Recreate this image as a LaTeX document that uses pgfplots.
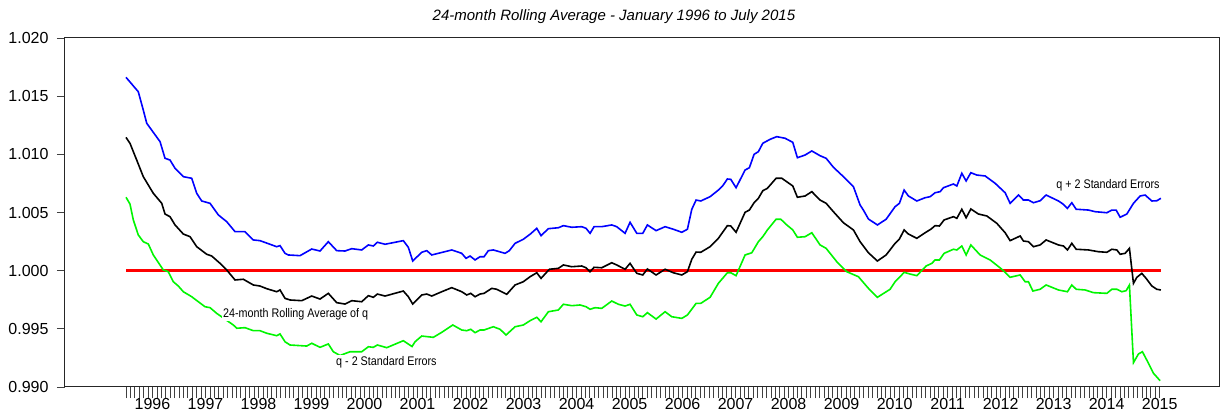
\documentclass[border=0pt]{standalone}
\usepackage{fontspec}
\setmainfont{Liberation Sans}
\newfontfamily\narrowfont[FakeStretch=0.86]{Liberation Sans}
\usepackage{pgfplots}
\usepackage{pgfplotstable}
\pgfplotsset{compat=1.18}

\pgfplotstableread{
x y
1996.000 1.01662
1996.232 1.01538
1996.326 1.01381
1996.391 1.01267
1996.642 1.01109
1996.736 1.00966
1996.830 1.00951
1996.925 1.00880
1997.081 1.00808
1997.240 1.00794
1997.334 1.00665
1997.428 1.00599
1997.585 1.00579
1997.742 1.00479
1997.900 1.00421
1998.057 1.00335
1998.245 1.00335
1998.402 1.00264
1998.528 1.00258
1998.843 1.00206
1998.906 1.00215
1999.000 1.00149
1999.062 1.00135
1999.283 1.00129
1999.504 1.00186
1999.660 1.00169
1999.817 1.00249
1999.975 1.00172
2000.132 1.00169
2000.258 1.00189
2000.447 1.00178
2000.572 1.00221
2000.666 1.00212
2000.742 1.00244
2000.887 1.00227
2001.232 1.00258
2001.326 1.00201
2001.409 1.00083
2001.579 1.00158
2001.674 1.00172
2001.768 1.00135
2002.145 1.00178
2002.334 1.00149
2002.415 1.00106
2002.491 1.00126
2002.585 1.00092
2002.679 1.00120
2002.755 1.00120
2002.836 1.00172
2002.930 1.00178
2003.151 1.00149
2003.232 1.00172
2003.340 1.00235
2003.496 1.00270
2003.623 1.00313
2003.749 1.00364
2003.830 1.00301
2003.968 1.00361
2004.157 1.00369
2004.251 1.00387
2004.409 1.00373
2004.598 1.00378
2004.679 1.00364
2004.755 1.00321
2004.830 1.00378
2004.975 1.00378
2005.164 1.00393
2005.258 1.00378
2005.415 1.00321
2005.509 1.00416
2005.636 1.00321
2005.749 1.00321
2005.836 1.00393
2006.000 1.00344
2006.170 1.00378
2006.326 1.00356
2006.485 1.00330
2006.591 1.00356
2006.674 1.00528
2006.755 1.00607
2006.843 1.00599
2007.019 1.00636
2007.175 1.00693
2007.258 1.00730
2007.345 1.00788
2007.409 1.00785
2007.509 1.00713
2007.679 1.00865
2007.760 1.00885
2007.849 1.01000
2007.930 1.01023
2008.013 1.01095
2008.151 1.01129
2008.277 1.01152
2008.434 1.01138
2008.579 1.01103
2008.666 1.00971
2008.811 1.00994
2008.938 1.01029
2009.094 1.00988
2009.208 1.00966
2009.345 1.00889
2009.534 1.00808
2009.628 1.00765
2009.723 1.00722
2009.849 1.00564
2009.911 1.00521
2010.006 1.00444
2010.175 1.00393
2010.340 1.00442
2010.509 1.00550
2010.591 1.00579
2010.679 1.00693
2010.760 1.00642
2010.919 1.00599
2011.075 1.00627
2011.170 1.00636
2011.264 1.00670
2011.358 1.00679
2011.421 1.00713
2011.609 1.00745
2011.674 1.00728
2011.768 1.00837
2011.849 1.00771
2011.938 1.00842
2012.051 1.00822
2012.208 1.00814
2012.396 1.00751
2012.585 1.00670
2012.679 1.00579
2012.836 1.00650
2012.930 1.00607
2013.025 1.00607
2013.119 1.00584
2013.245 1.00601
2013.358 1.00650
2013.591 1.00599
2013.685 1.00570
2013.760 1.00536
2013.843 1.00584
2013.925 1.00528
2014.157 1.00521
2014.283 1.00507
2014.504 1.00498
2014.598 1.00521
2014.679 1.00521
2014.755 1.00459
2014.881 1.00487
2015.006 1.00579
2015.132 1.00642
2015.226 1.00650
2015.353 1.00599
2015.447 1.00601
2015.523 1.00622
}\tabUpper

\pgfplotstableread{
x y
1996.000 1.01146
1996.075 1.01095
1996.202 1.00951
1996.326 1.00808
1996.515 1.00665
1996.674 1.00579
1996.736 1.00487
1996.830 1.00464
1996.925 1.00393
1997.081 1.00315
1997.208 1.00292
1997.334 1.00206
1997.523 1.00141
1997.617 1.00126
1997.774 1.00063
1997.900 1.00006
1998.057 0.99920
1998.213 0.99926
1998.402 0.99877
1998.528 0.99868
1998.655 0.99845
1998.843 0.99819
1998.906 0.99834
1999.000 0.99762
1999.094 0.99748
1999.315 0.99742
1999.504 0.99782
1999.660 0.99756
1999.817 0.99805
1999.975 0.99725
2000.132 0.99713
2000.258 0.99742
2000.447 0.99733
2000.572 0.99785
2000.666 0.99771
2000.742 0.99799
2000.887 0.99782
2001.232 0.99825
2001.326 0.99776
2001.409 0.99713
2001.579 0.99791
2001.674 0.99799
2001.768 0.99782
2001.957 0.99819
2002.145 0.99854
2002.334 0.99819
2002.428 0.99791
2002.504 0.99805
2002.585 0.99776
2002.679 0.99799
2002.755 0.99805
2002.900 0.99848
2002.994 0.99840
2003.183 0.99797
2003.340 0.99877
2003.496 0.99905
2003.623 0.99948
2003.749 0.99982
2003.830 0.99934
2003.987 1.00012
2004.157 1.00020
2004.251 1.00049
2004.409 1.00034
2004.598 1.00040
2004.679 1.00025
2004.755 0.99991
2004.830 1.00029
2004.975 1.00025
2005.164 1.00068
2005.258 1.00049
2005.415 1.00012
2005.509 1.00063
2005.636 0.99977
2005.749 0.99963
2005.836 1.00014
2006.000 0.99963
2006.170 1.00012
2006.326 0.99982
2006.485 0.99963
2006.591 0.99991
2006.674 1.00098
2006.755 1.00160
2006.843 1.00158
2007.019 1.00206
2007.175 1.00278
2007.345 1.00387
2007.409 1.00384
2007.509 1.00330
2007.679 1.00502
2007.760 1.00521
2007.849 1.00584
2007.930 1.00622
2008.013 1.00687
2008.100 1.00708
2008.264 1.00794
2008.372 1.00794
2008.579 1.00728
2008.666 1.00631
2008.811 1.00642
2008.938 1.00679
2009.094 1.00607
2009.208 1.00579
2009.345 1.00507
2009.534 1.00412
2009.723 1.00350
2009.849 1.00249
2010.006 1.00154
2010.175 1.00083
2010.340 1.00135
2010.509 1.00235
2010.591 1.00272
2010.679 1.00350
2010.760 1.00315
2010.919 1.00278
2011.075 1.00326
2011.183 1.00356
2011.264 1.00387
2011.345 1.00384
2011.434 1.00436
2011.609 1.00464
2011.674 1.00450
2011.768 1.00528
2011.849 1.00455
2011.938 1.00530
2012.081 1.00487
2012.240 1.00470
2012.428 1.00407
2012.585 1.00326
2012.679 1.00258
2012.868 1.00298
2012.930 1.00255
2013.025 1.00249
2013.119 1.00206
2013.245 1.00221
2013.358 1.00264
2013.591 1.00221
2013.685 1.00212
2013.760 1.00178
2013.843 1.00235
2013.925 1.00184
2014.157 1.00178
2014.345 1.00163
2014.504 1.00158
2014.598 1.00184
2014.692 1.00178
2014.755 1.00141
2014.849 1.00149
2014.930 1.00192
2015.006 0.99891
2015.070 0.99943
2015.164 0.99977
2015.258 0.99926
2015.353 0.99868
2015.447 0.99840
2015.523 0.99834
}\tabMid

\pgfplotstableread{
x y
1996.000 1.00631
1996.075 1.00573
1996.138 1.00436
1996.232 1.00307
1996.326 1.00249
1996.421 1.00229
1996.515 1.00135
1996.704 1.00006
1996.798 0.99991
1996.892 0.99905
1996.987 0.99868
1997.081 0.99819
1997.240 0.99776
1997.364 0.99733
1997.491 0.99690
1997.585 0.99682
1997.711 0.99633
1998.025 0.99533
1998.089 0.99505
1998.245 0.99510
1998.402 0.99484
1998.528 0.99484
1998.655 0.99462
1998.843 0.99441
1998.906 0.99456
1999.000 0.99389
1999.094 0.99361
1999.409 0.99352
1999.504 0.99376
1999.660 0.99341
1999.817 0.99370
1999.911 0.99303
2000.038 0.99271
2000.226 0.99303
2000.447 0.99303
2000.572 0.99346
2000.666 0.99341
2000.742 0.99361
2000.919 0.99338
2001.232 0.99398
2001.396 0.99348
2001.453 0.99389
2001.579 0.99438
2001.798 0.99427
2001.957 0.99470
2002.164 0.99533
2002.334 0.99490
2002.428 0.99484
2002.504 0.99496
2002.585 0.99467
2002.679 0.99490
2002.755 0.99490
2002.930 0.99518
2003.057 0.99496
2003.170 0.99447
2003.340 0.99518
2003.496 0.99533
2003.623 0.99570
2003.749 0.99599
2003.830 0.99561
2003.968 0.99647
2004.157 0.99662
2004.251 0.99711
2004.409 0.99699
2004.566 0.99705
2004.679 0.99690
2004.755 0.99668
2004.849 0.99682
2004.975 0.99676
2005.164 0.99739
2005.289 0.99711
2005.415 0.99696
2005.509 0.99711
2005.636 0.99619
2005.749 0.99604
2005.836 0.99639
2006.000 0.99584
2006.170 0.99647
2006.296 0.99604
2006.485 0.99590
2006.591 0.99619
2006.755 0.99719
2006.843 0.99719
2007.019 0.99771
2007.175 0.99891
2007.345 0.99982
2007.409 0.99982
2007.509 0.99957
2007.679 1.00135
2007.806 1.00154
2007.930 1.00249
2008.013 1.00292
2008.100 1.00350
2008.264 1.00442
2008.353 1.00442
2008.466 1.00393
2008.579 1.00350
2008.666 1.00287
2008.811 1.00292
2008.938 1.00326
2009.094 1.00221
2009.208 1.00192
2009.409 1.00077
2009.598 0.99991
2009.817 0.99948
2010.006 0.99848
2010.175 0.99771
2010.415 0.99840
2010.509 0.99905
2010.604 0.99948
2010.679 0.99986
2010.792 0.99971
2010.919 0.99957
2011.094 1.00040
2011.202 1.00063
2011.264 1.00092
2011.345 1.00092
2011.434 1.00149
2011.609 1.00184
2011.674 1.00178
2011.768 1.00212
2011.849 1.00135
2011.938 1.00221
2012.113 1.00135
2012.302 1.00092
2012.523 1.00012
2012.679 0.99943
2012.868 0.99963
2012.962 0.99905
2013.025 0.99905
2013.108 0.99825
2013.245 0.99840
2013.358 0.99877
2013.591 0.99834
2013.760 0.99819
2013.843 0.99877
2013.925 0.99840
2014.094 0.99834
2014.251 0.99811
2014.504 0.99805
2014.598 0.99840
2014.692 0.99840
2014.787 0.99819
2014.868 0.99828
2014.930 0.99877
2015.006 0.99209
2015.100 0.99284
2015.175 0.99303
2015.289 0.99204
2015.383 0.99118
2015.509 0.99054
}\tabLower

\begin{document}
\begin{tikzpicture}
\useasboundingbox (0,0) rectangle (1220pt,420pt);
\begin{axis}[
  at={(65pt,33pt)}, anchor=south west,
  scale only axis, width=1154pt, height=349pt,
  xmin=-13.81, xmax=247.44,
  ymin=0.990, ymax=1.020,
  axis line style={line width=1pt, black!85},
  tick align=outside,
  xtick pos=bottom, ytick pos=left,
  xtick={0,12,...,228},
  xticklabels={1996,1997,1998,1999,2000,2001,2002,2003,2004,2005,2006,2007,2008,2009,2010,2011,2012,2013,2014,2015},
  extra x ticks={0,1,...,234},
  extra x tick labels={},
  extra x tick style={major tick length=6pt},
  major tick length=8pt,
  xtick style={/pgfplots/major tick length=11pt},
  tick style={line width=0.8pt, black!75},
  ytick={0.990,0.995,1.000,1.005,1.010,1.015,1.020},
  scaled y ticks=false,
  yticklabel style={/pgf/number format/.cd, fixed, fixed zerofill, precision=3, /tikz/xshift=-5pt},
  xticklabel style={xshift=26.5pt},
  tick label style={/pgf/number format/assume math mode=true, font=\fontsize{16}{18}\selectfont},
  clip=false,
]
\addplot[color=red, line width=2.4pt] coordinates {(0,1) (234.24,1)};
\addplot[blue, line width=1.6pt] table[x expr=(\thisrow{x}-1996)*12, y=y] {\tabUpper};
\addplot[black, line width=1.6pt] table[x expr=(\thisrow{x}-1996)*12, y=y] {\tabMid};
\addplot[line width=1.6pt, color={rgb,255:red,0;green,245;blue,0}] table[x expr=(\thisrow{x}-1996)*12, y=y] {\tabLower};
\node[anchor=west, fill=white, inner sep=1pt, font=\narrowfont\fontsize{12.5}{14}\selectfont] at (axis cs:21.73,0.99627) {24-month Rolling Average of q};
\node[anchor=west, fill=white, inner sep=1pt, font=\narrowfont\fontsize{12.5}{14}\selectfont] at (axis cs:47.32,0.99215) {q - 2 Standard Errors};
\node[anchor=east, inner sep=1pt, font=\narrowfont\fontsize{12.5}{14}\selectfont] at (axis cs:234.23,1.00736) {q + 2 Standard Errors};
\node[font=\itshape\fontsize{15}{17}\selectfont] at (rel axis cs:0.4757,1.0602) {24-month Rolling Average - January 1996 to July 2015};
\end{axis}
\end{tikzpicture}
\end{document}
